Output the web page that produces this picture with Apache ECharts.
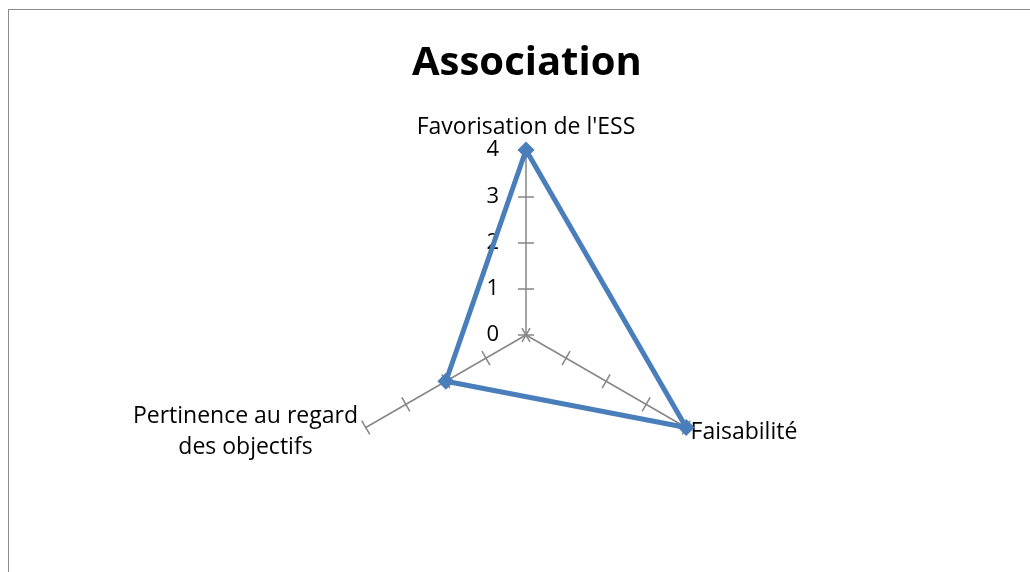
<!DOCTYPE html>
<html>
<head>
<meta charset="utf-8">
<script src="https://cdn.jsdelivr.net/npm/echarts@6/dist/echarts.min.js"></script>
<style>
  html, body { margin: 0; padding: 0; background: #fff; overflow: hidden; }
  #frame { position: absolute; left: 8px; top: 9px; width: 1040px; height: 600px; border: 1.5px solid #8c8c8c; }
  #main { position: absolute; left: -8px; top: -9px; width: 1030px; height: 572px; }
</style>
</head>
<body>
<div id="frame"><div id="main"></div></div>
<script>
// axes, in ECharts' counter-clockwise order starting from the top
var axisNames = ["Favorisation de l'ESS", 'Pertinence au regard des objectifs', 'Faisabilité'];
var axisMax = 4;
var values = [4, 2, 4];

var fontFam = '"Open Sans", Lato, sans-serif';

var indicators = [];
var tickIndicators = [];
for (var i = 0; i < axisNames.length; i++) {
	var ind = { name: axisNames[i], max: axisMax, min: 0 };
	if (i > 0) {
		ind.axisLabel = { show: false };
	}
	indicators.push(ind);
	tickIndicators.push({ name: axisNames[i], max: axisMax, min: 0 });
}

var myChart = echarts.init(document.getElementById('main'));
myChart.setOption({
	animation: false,
	title: {
		text: 'Association',
		left: 406,
		top: 38,
		textStyle: { fontFamily: fontFam, fontSize: 40, fontWeight: 'bold', color: '#000' }
	},
	radar: [{
		center: [525, 334],
		radius: 185,
		startAngle: 90,
		splitNumber: 4,
		shape: 'polygon',
		indicator: indicators,
		nameGap: 5,
		axisName: {
			color: '#000',
			fontFamily: fontFam,
			fontSize: 23,
			padding: [4, 0, 0, 0],
			formatter: function (name) {
				if (name.indexOf('Pertinence') === 0) {
					return '{a|Pertinence au regard}\n{a|des objectifs}';
				}
				return name;
			},
			rich: {
				a: { width: 232, align: 'center', fontFamily: fontFam, fontSize: 23, color: '#000', lineHeight: 31 }
			}
		},
		axisLine: { show: true, lineStyle: { color: '#868686', width: 1.5 } },
		axisTick: { show: true, length: 8, lineStyle: { color: '#868686', width: 1.5 } },
		axisLabel: {
			show: true,
			color: '#000',
			fontFamily: fontFam,
			fontSize: 22,
			margin: 27
		},
		splitLine: { show: false },
		splitArea: { show: false }
	}, {
		// second copy only to put the ticks on the other side of each axis
		center: [525, 334],
		radius: 185,
		startAngle: 90,
		splitNumber: 4,
		shape: 'polygon',
		indicator: tickIndicators,
		axisName: { show: false },
		axisLine: { show: false },
		axisTick: { show: true, length: -8, lineStyle: { color: '#868686', width: 1.5 } },
		axisLabel: { show: false },
		splitLine: { show: false },
		splitArea: { show: false }
	}],
	series: [{
		type: 'radar',
		radarIndex: 0,
		z: 5,
		symbol: 'diamond',
		symbolSize: 17,
		lineStyle: { color: '#4a7ebb', width: 5 },
		itemStyle: { color: '#4a7ebb' },
		data: [{ value: values, name: 'Association' }]
	}]
});
</script>
</body>
</html>
